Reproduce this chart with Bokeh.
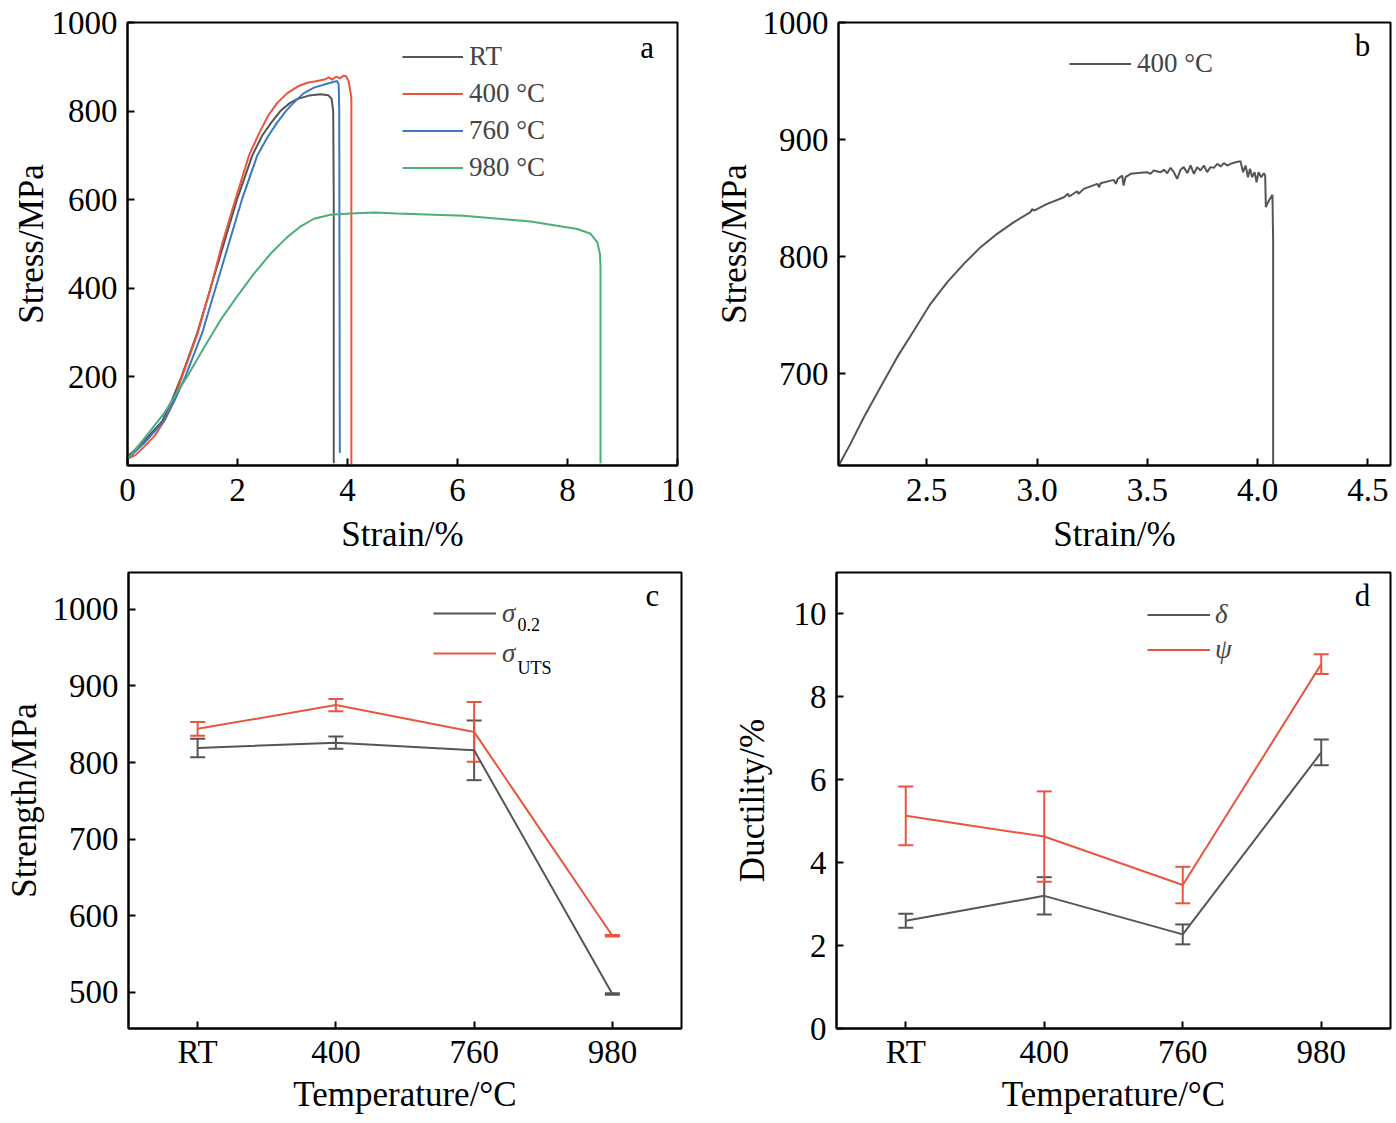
from bokeh.plotting import figure
from bokeh.models import (Range1d, FixedTicker, Legend, LegendItem, Label,
                          Whisker, TeeHead, ColumnDataSource)
from bokeh.layouts import row, column
from bokeh.embed import file_html
from bokeh.resources import INLINE

# ---------------- data ----------------
# panel a : engineering stress-strain curves
rt_strain = [0.00, 0.30, 0.63, 0.80, 0.98, 1.27, 1.51, 1.75, 1.99, 2.27, 2.45, 2.62, 2.78, 2.95, 3.08, 3.30, 3.51,
             3.65, 3.71, 3.74, 3.75, 3.75]
rt_stress = [20, 55, 100, 145, 200, 300, 400, 500, 600, 700, 745, 775, 800, 818, 827, 835, 838,
             836, 828, 800, 600, 5]

t400_strain = [0.00, 0.15, 0.30, 0.50, 0.69, 0.85, 0.99, 1.28, 1.51, 1.72, 1.96, 2.21, 2.40, 2.56, 2.72, 2.90, 3.10,
               3.27, 3.45, 3.60, 3.66, 3.72, 3.80, 3.86, 3.93, 3.97, 4.02, 4.05, 4.07, 4.07]
t400_stress = [15, 24, 42, 68, 105, 150, 200, 300, 400, 500, 600, 700, 752, 790, 818, 840, 856,
               864, 868, 872, 876, 871, 878, 874, 880, 879, 868, 846, 830, 0]

t760_strain = [0.00, 0.30, 0.66, 0.85, 1.05, 1.36, 1.60, 1.84, 2.08, 2.36, 2.55, 2.72, 2.88, 3.02, 3.20, 3.39,
               3.69, 3.81, 3.84, 3.85, 3.86]
t760_stress = [15, 50, 100, 145, 200, 300, 400, 500, 600, 700, 742, 774, 800, 819, 840, 853,
               864, 868, 860, 800, 28]

t980_strain = [0.00, 0.30, 0.66, 1.08, 1.40, 1.69, 2.00, 2.30, 2.60, 2.90, 3.15, 3.39, 3.69, 4.05, 4.50, 4.90,
               6.11, 7.33, 8.18, 8.42, 8.54, 8.59, 8.60, 8.60]
t980_stress = [15, 60, 117, 200, 268, 328, 383, 433, 478, 515, 540, 557, 566, 569, 571, 569,
               564, 551, 534, 523, 504, 478, 450, 5]

# panel b : 400 C curve, enlarged
b400_strain = [2.101, 2.154, 2.215, 2.290, 2.366, 2.442, 2.517, 2.593, 2.668, 2.744, 2.819, 2.895, 2.970, 2.978,
               2.986, 3.046, 3.122, 3.140, 3.146, 3.182, 3.188, 3.212, 3.273, 3.282, 3.288, 3.348, 3.357, 3.366,
               3.386, 3.392, 3.401, 3.424, 3.469, 3.499, 3.514, 3.529, 3.560, 3.575, 3.590, 3.605, 3.620, 3.635,
               3.650, 3.665, 3.681, 3.696, 3.711, 3.726, 3.741, 3.756, 3.771, 3.786, 3.801, 3.817, 3.832, 3.847,
               3.862, 3.877, 3.900, 3.922, 3.934, 3.945, 3.956, 3.965, 3.975, 3.986, 3.995, 4.004, 4.016, 4.028,
               4.034, 4.037, 4.051, 4.067, 4.070, 4.070]
b400_stress = [621.4, 639.9, 662.7, 688.3, 714.0, 736.8, 759.6, 778.1, 793.7, 808.0, 819.4, 829.4, 837.9, 840.7,
               839.3, 845.0, 850.7, 853.6, 851.3, 855.8, 853.6, 857.8, 862.1, 859.3, 862.7, 865.5, 862.1, 866.4,
               869.2, 860.7, 867.8, 870.7, 871.5, 872.1, 870.7, 873.5, 872.1, 874.1, 871.2, 875.8, 872.1, 866.4,
               874.1, 876.4, 871.2, 877.8, 870.7, 876.4, 873.5, 877.8, 872.1, 876.4, 875.8, 879.2, 876.9, 879.8,
               877.8, 879.2, 880.6, 881.5, 872.1, 877.8, 867.8, 874.9, 867.8, 872.1, 863.5, 872.1, 867.8, 871.2,
               869.2, 842.2, 847.9, 852.7, 813.7, 600.0]

# panels c, d : properties vs temperature
temps = ["RT", "400", "760", "980"]
temp_pos = [0, 1, 2, 3]
sigma02 = [819, 826, 816, 498]
sigma02_err = [12, 8, 39, 1]
sigma_uts = [844, 875, 840, 574]
sigma_uts_err = [9, 8, 39, 1]
delta = [2.60, 3.20, 2.27, 6.66]
delta_err = [0.17, 0.45, 0.24, 0.31]
psi = [5.13, 4.63, 3.46, 8.79]
psi_err = [0.71, 1.09, 0.44, 0.24]

# ---------------- style ----------------
FONT = "Liberation Serif"
GRAY = "#555555"
RED = "#e9553f"
BLUE = "#3b78bf"
GREEN = "#4cae78"
TICK_SIZE = "33px"
LABEL_SIZE = "35px"
LEG_SIZE = "27px"


def make_fig(xr, yr, fw, fh, bl, br, bt, bb, xts, xls, yls):
    p = figure(frame_width=fw, frame_height=fh,
               min_border_left=bl, min_border_right=br,
               min_border_top=bt, min_border_bottom=bb,
               x_range=Range1d(*xr), y_range=Range1d(*yr),
               output_backend="svg", toolbar_location=None, tools="")
    p.outline_line_color = "black"
    p.outline_line_width = 2
    p.outline_line_alpha = 1
    p.grid.visible = False
    p.background_fill_color = "white"
    p.border_fill_color = "white"
    for ax in (p.xaxis[0], p.yaxis[0]):
        ax.axis_line_width = 2
        ax.axis_line_color = "black"
        ax.major_tick_in = 7
        ax.major_tick_out = 0
        ax.major_tick_line_width = 2
        ax.major_tick_line_color = "black"
        ax.minor_tick_line_color = None
        ax.major_label_text_font = FONT
        ax.major_label_text_font_size = TICK_SIZE
        ax.major_label_text_color = "black"
        ax.axis_label_text_font = FONT
        ax.axis_label_text_font_size = LABEL_SIZE
        ax.axis_label_text_font_style = "normal"
        ax.axis_label_text_color = "black"
    p.xaxis[0].major_label_standoff = xts
    p.yaxis[0].major_label_standoff = 10
    p.xaxis[0].axis_label_standoff = xls
    p.yaxis[0].axis_label_standoff = yls
    return p


def add_legend(p, items, loc, gw, gh, standoff, italic=False):
    leg = Legend(items=items, location=loc, glyph_width=gw, glyph_height=gh,
                 label_height=gh, label_standoff=standoff, spacing=0,
                 padding=0, margin=0, border_line_alpha=0, background_fill_alpha=0,
                 label_text_font=FONT, label_text_font_size=LEG_SIZE,
                 label_text_font_style="italic" if italic else "normal")
    p.add_layout(leg)


def letter(p, txt, x, y):
    p.add_layout(Label(x=x, y=y, text=txt, text_font=FONT, text_font_size="31px",
                       text_align="center", text_baseline="middle", text_color="black"))


# ---------------- panel a ----------------
pa = make_fig((0, 10), (0, 1000), 550, 443, 127, 33, 22, 100, 13, 11, -2)
pa.xaxis[0].ticker = FixedTicker(ticks=[0, 2, 4, 6, 8, 10])
pa.yaxis[0].ticker = FixedTicker(ticks=[200, 400, 600, 800, 1000])
pa.xaxis[0].axis_label = "Strain/%"
pa.yaxis[0].axis_label = "Stress/MPa"
r_rt = pa.line(rt_strain, rt_stress, line_color=GRAY, line_width=2)
r_400 = pa.line(t400_strain, t400_stress, line_color=RED, line_width=2)
r_760 = pa.line(t760_strain, t760_stress, line_color=BLUE, line_width=2)
r_980 = pa.line(t980_strain, t980_stress, line_color=GREEN, line_width=2)
add_legend(pa, [LegendItem(label="RT", renderers=[r_rt]),
                LegendItem(label="400 °C", renderers=[r_400]),
                LegendItem(label="760 °C", renderers=[r_760]),
                LegendItem(label="980 °C", renderers=[r_980])],
           (275, 279), 61, 37, 6)
letter(pa, "a", 9.45, 944)

# ---------------- panel b ----------------
pb = make_fig((2.1, 4.602), (621.4, 1000), 552, 443, 128, 4, 22, 100, 13, 11, 6)
pb.xaxis[0].ticker = FixedTicker(ticks=[2.5, 3.0, 3.5, 4.0, 4.5])
pb.xaxis[0].major_label_overrides = {2.5: "2.5", 3.0: "3.0", 3.5: "3.5", 4.0: "4.0", 4.5: "4.5"}
pb.yaxis[0].ticker = FixedTicker(ticks=[700, 800, 900, 1000])
pb.xaxis[0].axis_label = "Strain/%"
pb.yaxis[0].axis_label = "Stress/MPa"
r_b = pb.line(b400_strain, b400_stress, line_color=GRAY, line_width=2)
add_legend(pb, [LegendItem(label="400 °C", renderers=[r_b])], (231, 383), 62, 37, 6)
letter(pb, "b", 4.475, 980)

# ---------------- panel c ----------------
pc = make_fig((-0.5, 3.5), (453, 1048), 553, 456, 128, 38, 7, 90, 5, 2, 6)
pc.xaxis[0].ticker = FixedTicker(ticks=temp_pos)
pc.xaxis[0].major_label_overrides = {i: t for i, t in zip(temp_pos, temps)}
pc.yaxis[0].ticker = FixedTicker(ticks=[500, 600, 700, 800, 900, 1000])
pc.xaxis[0].axis_label = "Temperature/°C"
pc.yaxis[0].axis_label = "Strength/MPa"


def err_series(p, xs, ys, es, color):
    src = ColumnDataSource(dict(x=xs, y=ys,
                                lo=[y - e for y, e in zip(ys, es)],
                                hi=[y + e for y, e in zip(ys, es)]))
    r = p.line("x", "y", source=src, line_color=color, line_width=2)
    w = Whisker(base="x", lower="lo", upper="hi", source=src, line_color=color, line_width=2,
                upper_head=TeeHead(size=15, line_color=color, line_width=2),
                lower_head=TeeHead(size=15, line_color=color, line_width=2))
    p.add_layout(w)
    return r


r_s02 = err_series(pc, temp_pos, sigma02, sigma02_err, GRAY)
r_uts = err_series(pc, temp_pos, sigma_uts, sigma_uts_err, RED)
add_legend(pc, [LegendItem(label="σ", renderers=[r_s02]),
                LegendItem(label="σ", renderers=[r_uts])],
           (305, 355), 63, 40, 6, italic=True)
for txt, yy in (("0.2", 980), ("UTS", 924)):
    pc.add_layout(Label(x=2.314, y=yy, text=txt, text_font=FONT, text_font_size="18px",
                        text_align="left", text_baseline="middle", text_color="black"))
letter(pc, "c", 3.29, 1018)

# ---------------- panel d ----------------
pd_ = make_fig((-0.5, 3.5), (0, 11), 554, 456, 117, 4, 7, 90, 5, 2, 19)
pd_.xaxis[0].ticker = FixedTicker(ticks=temp_pos)
pd_.xaxis[0].major_label_overrides = {i: t for i, t in zip(temp_pos, temps)}
pd_.yaxis[0].ticker = FixedTicker(ticks=[0, 2, 4, 6, 8, 10])
pd_.xaxis[0].axis_label = "Temperature/°C"
pd_.yaxis[0].axis_label = "Ductility/%"
r_d = err_series(pd_, temp_pos, delta, delta_err, GRAY)
r_p = err_series(pd_, temp_pos, psi, psi_err, RED)
add_legend(pd_, [LegendItem(label="δ", renderers=[r_d]),
                 LegendItem(label="ψ", renderers=[r_p])],
           (311, 361), 63, 35, 5, italic=True)
letter(pd_, "d", 3.298, 10.45)

layout = column(row(pa, pb), row(pc, pd_))
open("out.html", "w").write(file_html(layout, INLINE))
